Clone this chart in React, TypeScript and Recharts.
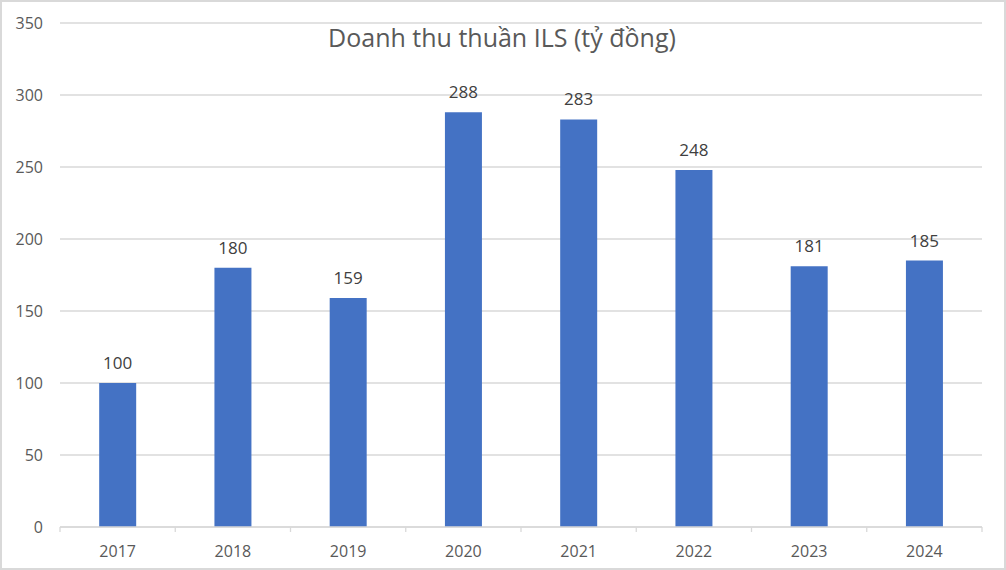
import React from "react";
import { BarChart, Bar, XAxis, YAxis, CartesianGrid, LabelList } from "recharts";

const years = ["2017", "2018", "2019", "2020", "2021", "2022", "2023", "2024"];
const revenue = [100, 180, 159, 288, 283, 248, 181, 185];
const yTicks = [0, 50, 100, 150, 200, 250, 300, 350];
const title = "Doanh thu thuần ILS (tỷ đồng)";

const data = years.map((y, i) => ({ year: y, value: revenue[i] }));

const W = 1006;
const H = 570;
const MARGIN = { top: 23, right: 24, bottom: 13, left: 0 };
const Y_AXIS_W = 60;
const X_AXIS_H = 30;
const PLOT_W = W - MARGIN.left - MARGIN.right - Y_AXIS_W;
const BAND = PLOT_W / years.length;
const FONT = "'Open Sans', 'Noto Sans', sans-serif";
const GRID = "#d9d9d9";
const TEXT = "#595959";

function XTick(props: any) {
  const { x, y, payload, index } = props;
  const last = index === years.length - 1;
  return (
    <g>
      <line x1={x - BAND / 2} x2={x - BAND / 2} y1={y} y2={y + 5} stroke={GRID} strokeWidth={1.3} />
      {last && <line x1={x + BAND / 2} x2={x + BAND / 2} y1={y} y2={y + 5} stroke={GRID} strokeWidth={1.3} />}
      <text x={x} y={y + 30} textAnchor="middle" fill={TEXT} fontSize={16} fontFamily={FONT}>
        {payload.value}
      </text>
    </g>
  );
}

export default function App() {
  return (
    <div style={{ position: "absolute", left: 0, top: 0, width: W, height: H, background: "#fff" }}>
      <BarChart width={W} height={H} data={data} margin={MARGIN} barCategoryGap="34%">
        <CartesianGrid vertical={false} stroke={GRID} strokeWidth={1.3} />
        <XAxis
          dataKey="year"
          height={X_AXIS_H}
          axisLine={{ stroke: GRID, strokeWidth: 1.3 }}
          tickLine={false}
          tickSize={0}
          tickMargin={0}
          tick={<XTick />}
          interval={0}
        />
        <YAxis
          width={Y_AXIS_W}
          domain={[0, 350]}
          ticks={yTicks}
          axisLine={false}
          tickLine={false}
          tickSize={0}
          tickMargin={17}
          tick={{ fill: TEXT, fontSize: 16, fontFamily: FONT }}
        />
        <Bar dataKey="value" fill="#4472c4" isAnimationActive={false}>
          <LabelList dataKey="value" position="top" offset={14} fill="#404040" fontSize={17} fontFamily={FONT} />
        </Bar>
      </BarChart>
      <svg width={W} height={H} style={{ position: "absolute", left: 0, top: 0, pointerEvents: "none" }}>
        <text x={502} y={47} textAnchor="middle" fill={TEXT} fontSize={25} fontFamily={FONT}>
          {title}
        </text>
      </svg>
      <div
        style={{
          position: "absolute",
          left: 0,
          top: 0,
          width: W,
          height: H,
          boxSizing: "border-box",
          border: "2px solid #d9d9d9",
          pointerEvents: "none",
        }}
      />
    </div>
  );
}
